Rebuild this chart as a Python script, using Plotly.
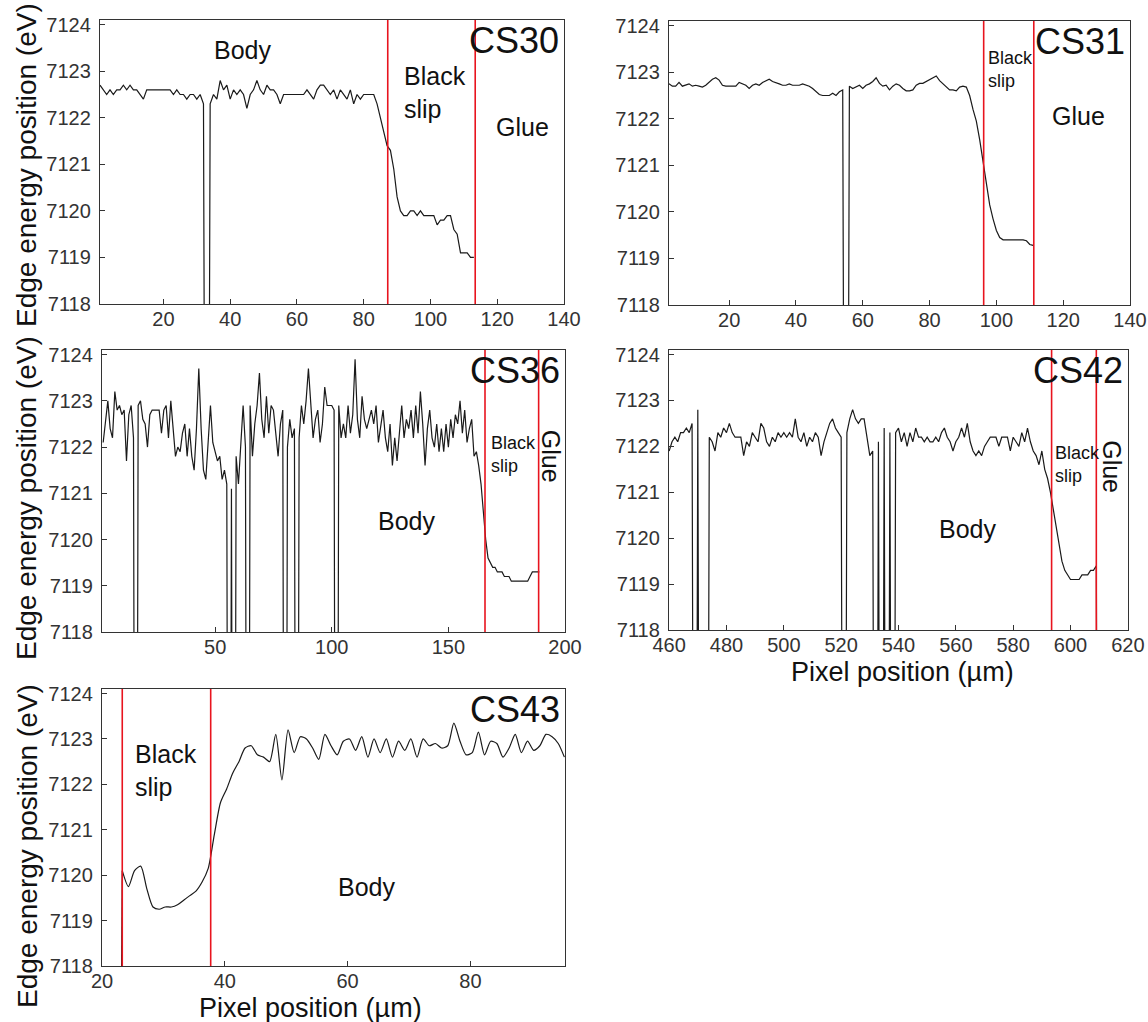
import plotly.graph_objects as go

DROP = 7100.0  # detector drop-out value (far below the visible range)

# ---------------- data ----------------
cs30_x0, cs30_dx = 1, 1
cs30_y = [
    7122.7, 7122.6, 7122.5, 7122.6, 7122.5, 7122.6, 7122.6, 7122.7, 7122.6, 7122.7,
    7122.6, 7122.6, 7122.5, 7122.4, 7122.6, 7122.6, 7122.6, 7122.6, 7122.6, 7122.6,
    7122.6, 7122.6, 7122.5, 7122.6, 7122.5, 7122.5, 7122.4, 7122.5, 7122.5, 7122.4,
    7122.5, 7122.3, DROP, 7122.3, 7122.5, 7122.4, 7122.8, 7122.6, 7122.7, 7122.4,
    7122.6, 7122.5, 7122.6, 7122.5, 7122.2, 7122.5, 7122.6, 7122.8, 7122.6, 7122.5,
    7122.7, 7122.6, 7122.6, 7122.5, 7122.3, 7122.5, 7122.5, 7122.5, 7122.5, 7122.5,
    7122.5, 7122.5, 7122.6, 7122.5, 7122.4, 7122.6, 7122.7, 7122.7, 7122.6, 7122.5,
    7122.6, 7122.4, 7122.6, 7122.5, 7122.4, 7122.6, 7122.3, 7122.5, 7122.4, 7122.5,
    7122.5, 7122.5, 7122.5, 7122.3, 7122.0, 7121.7, 7121.4, 7121.3, 7120.9, 7120.3,
    7120.0, 7119.9, 7119.9, 7120.0, 7120.0, 7119.9, 7120.0, 7119.9, 7119.9, 7119.9,
    7119.9, 7119.7, 7119.8, 7119.8, 7119.9, 7119.9, 7119.6, 7119.5, 7119.1, 7119.1,
    7119.1, 7119.0, 7119.0,
]

cs31_x0, cs31_dx = 2, 1
cs31_y = [
    7122.75, 7122.70, 7122.70, 7122.78, 7122.70, 7122.72, 7122.75, 7122.70, 7122.72, 7122.70,
    7122.68, 7122.72, 7122.78, 7122.85, 7122.88, 7122.83, 7122.72, 7122.70, 7122.70, 7122.70,
    7122.70, 7122.78, 7122.75, 7122.72, 7122.65, 7122.72, 7122.75, 7122.72, 7122.78, 7122.82,
    7122.85, 7122.80, 7122.78, 7122.75, 7122.72, 7122.72, 7122.75, 7122.72, 7122.72, 7122.72,
    7122.75, 7122.72, 7122.70, 7122.65, 7122.58, 7122.52, 7122.50, 7122.50, 7122.50, 7122.55,
    7122.50, 7122.58, 7122.62, DROP, 7122.70, 7122.65, 7122.68, 7122.72, 7122.65, 7122.72,
    7122.75, 7122.80, 7122.88, 7122.76, 7122.70, 7122.72, 7122.62, 7122.70, 7122.75, 7122.72,
    7122.65, 7122.60, 7122.60, 7122.62, 7122.72, 7122.76, 7122.76, 7122.80, 7122.85, 7122.88,
    7122.92, 7122.82, 7122.76, 7122.70, 7122.62, 7122.62, 7122.60, 7122.68, 7122.70, 7122.68,
    7122.50, 7122.20, 7121.95, 7121.55, 7121.10, 7120.60, 7120.15, 7119.85, 7119.60, 7119.45,
    7119.40, 7119.40, 7119.40, 7119.40, 7119.40, 7119.40, 7119.40, 7119.38, 7119.30, 7119.28,
]

cs36_x0, cs36_dx = 2, 1
cs36_y = [
    7122.1, 7122.6, 7123.0, 7122.4, 7122.2, 7123.2, 7122.8, 7122.9, 7122.7, 7122.8,
    7121.7, 7122.7, 7122.9, 7122.2, DROP, 7122.9, 7123.0, 7122.6, 7122.5, 7122.0,
    7122.7, 7122.8, 7122.8, 7122.8, 7122.8, 7122.3, 7122.8, 7122.9, 7122.2, 7123.0,
    7122.3, 7121.8, 7122.0, 7121.9, 7122.3, 7122.5, 7121.8, 7122.4, 7121.8, 7121.5,
    7122.4, 7123.7, 7122.4, 7121.5, 7121.3, 7122.0, 7122.9, 7122.1, 7121.9, 7121.7,
    7121.8, 7121.3, 7121.5, 7121.2, DROP, 7121.1, DROP, 7121.8, 7121.2, 7122.0,
    7122.9, 7122.0, DROP, 7122.9, 7121.8, 7122.5, 7122.9, 7123.6, 7122.6, 7122.2,
    7123.1, 7122.3, 7122.9, 7122.8, 7122.3, 7121.8, 7122.5, 7122.8, DROP, 7122.0,
    7122.6, 7122.2, 7122.4, DROP, 7122.2, 7122.9, 7122.5, 7123.0, 7123.7, 7122.9,
    7122.2, 7122.6, 7122.8, 7122.1, 7122.5, 7123.3, 7122.9, 7122.9, 7122.9, 7122.8,
    DROP, 7122.9, 7122.2, 7122.5, 7122.2, 7122.9, 7122.3, 7122.7, 7123.9, 7122.6,
    7122.2, 7123.1, 7122.6, 7122.4, 7122.6, 7122.8, 7122.5, 7122.9, 7122.1, 7122.5,
    7122.8, 7122.2, 7121.9, 7122.5, 7121.6, 7122.2, 7121.7, 7122.3, 7122.9, 7122.2,
    7122.6, 7122.4, 7122.8, 7122.2, 7122.9, 7122.3, 7123.2, 7122.5, 7121.6, 7122.4,
    7122.8, 7122.2, 7122.0, 7122.5, 7121.9, 7122.4, 7121.9, 7122.5, 7122.0, 7122.6,
    7122.2, 7122.7, 7122.5, 7123.0, 7122.3, 7122.8, 7122.1, 7122.4, 7122.6, 7121.8,
    7121.9, 7121.6, 7121.2, 7120.6, 7120.0, 7119.6, 7119.5, 7119.4, 7119.4, 7119.3,
    7119.3, 7119.3, 7119.2, 7119.2, 7119.2, 7119.1, 7119.1, 7119.1, 7119.1, 7119.1,
    7119.1, 7119.1, 7119.1, 7119.2, 7119.3, 7119.3, 7119.3, 7119.3,
]

cs42_x0, cs42_dx = 460, 1
cs42_y = [
    7121.9, 7122.1, 7122.2, 7122.1, 7122.3, 7122.3, 7122.4, 7122.3, 7122.5, DROP,
    7122.8, DROP, DROP, DROP, 7122.2, 7122.1, 7121.9, 7122.3, 7122.2, 7122.4,
    7122.3, 7122.5, 7122.3, 7122.2, 7122.2, 7122.2, 7121.8, 7122.1, 7122.0, 7122.3,
    7122.2, 7122.1, 7122.5, 7122.4, 7122.1, 7122.0, 7122.2, 7122.1, 7122.3, 7122.2,
    7122.3, 7122.2, 7122.3, 7122.2, 7122.6, 7122.2, 7122.1, 7122.3, 7122.0, 7122.2,
    7122.1, 7122.3, 7122.2, 7121.8, 7122.1, 7122.3, 7122.5, 7122.6, 7122.4, 7122.3,
    7122.2, DROP, 7122.3, 7122.6, 7122.8, 7122.6, 7122.5, 7122.6, 7122.6, 7122.2,
    7121.8, 7121.9, DROP, 7122.1, DROP, 7122.4, DROP, 7122.3, DROP, 7122.3,
    7122.4, 7122.1, 7122.3, 7122.0, 7122.3, 7122.1, 7122.4, 7122.2, 7122.2, 7122.1,
    7122.2, 7122.1, 7122.1, 7122.2, 7122.1, 7122.3, 7122.4, 7122.2, 7122.1, 7121.9,
    7122.1, 7122.2, 7122.4, 7122.2, 7122.5, 7122.1, 7121.9, 7121.8, 7121.9, 7121.8,
    7122.0, 7122.1, 7122.2, 7122.2, 7122.2, 7122.0, 7122.2, 7122.2, 7122.2, 7121.9,
    7122.2, 7122.1, 7122.0, 7122.3, 7122.1, 7122.4, 7122.1, 7121.9, 7121.8, 7121.6,
    7121.9, 7121.5, 7121.3, 7121.0, 7120.6, 7120.2, 7119.8, 7119.5, 7119.3, 7119.2,
    7119.1, 7119.1, 7119.1, 7119.1, 7119.2, 7119.2, 7119.2, 7119.3, 7119.3, 7119.4,
    DROP,
]

cs43_x0, cs43_dx = 22.3, 1
cs43_y = [
    DROP,
    7120.1, 7119.75, 7120.1, 7120.2, 7119.7, 7119.3, 7119.25, 7119.3, 7119.3, 7119.35,
    7119.45, 7119.55, 7119.65, 7119.85, 7120.15, 7120.9, 7121.6, 7121.9, 7122.25, 7122.5,
    7122.8, 7122.85, 7122.65, 7122.6, 7122.5, 7123.1, 7122.1, 7123.2, 7122.7, 7123.05,
    7123.0, 7122.8, 7122.55, 7123.1, 7122.85, 7122.65, 7122.95, 7123.0, 7122.75, 7123.05,
    7122.6, 7123.0, 7122.7, 7123.0, 7122.6, 7122.95, 7122.75, 7123.0, 7122.6, 7123.0,
    7122.85, 7122.9, 7122.8, 7122.85, 7123.35, 7122.95, 7122.65, 7122.7, 7123.15, 7122.65,
    7122.95, 7122.9, 7122.6, 7122.8, 7123.1, 7122.7, 7122.95, 7122.75, 7122.85, 7123.1,
    7123.05, 7122.9, 7122.6,
]

# region boundaries (red lines)
cs30_bounds = [87.2, 113.4]
cs31_bounds = [96.2, 111.2]
cs36_bounds = [165.7, 188.7]
cs42_bounds = [593.4, 609.0]
cs43_bounds = [23.3, 37.7]

y_ticks = [7118, 7119, 7120, 7121, 7122, 7123, 7124]
cs30_xticks = [20, 40, 60, 80, 100, 120, 140]
cs31_xticks = [20, 40, 60, 80, 100, 120, 140]
cs36_xticks = [50, 100, 150, 200]
cs42_xticks = [460, 480, 500, 520, 540, 560, 580, 600, 620]
cs43_xticks = [20, 40, 60, 80]

y_title = "Edge energy position (eV)"
x_title = "Pixel position (µm)"

# ---------------- layout helpers ----------------
W, H = 1148, 1022
FONT = "Liberation Sans, Arial, Helvetica, sans-serif"


def dom_x(a, b):
    return [a / W, b / W]


def dom_y(top, bottom):
    return [1 - bottom / H, 1 - top / H]


panels = [
    dict(name="CS30", x0=cs30_x0, dx=cs30_dx, y=cs30_y, xr=[1, 140], xt=cs30_xticks,
         bounds=cs30_bounds, px=(100, 564), py=(20, 304), spline=False),
    dict(name="CS31", x0=cs31_x0, dx=cs31_dx, y=cs31_y, xr=[2, 140], xt=cs31_xticks,
         bounds=cs31_bounds, px=(669, 1130), py=(21, 305), spline=False),
    dict(name="CS36", x0=cs36_x0, dx=cs36_dx, y=cs36_y, xr=[1.5, 200], xt=cs36_xticks,
         bounds=cs36_bounds, px=(102, 565), py=(350, 632), spline=False),
    dict(name="CS42", x0=cs42_x0, dx=cs42_dx, y=cs42_y, xr=[459.95, 620.05], xt=cs42_xticks,
         bounds=cs42_bounds, px=(669, 1128), py=(350, 630), spline=False),
    dict(name="CS43", x0=cs43_x0, dx=cs43_dx, y=cs43_y, xr=[20, 95.4], xt=cs43_xticks,
         bounds=cs43_bounds, px=(102, 565), py=(689, 966), spline=True),
]

fig = go.Figure()
layout = dict(
    width=W, height=H, autosize=False,
    margin=dict(l=0, r=0, t=0, b=0, pad=0),
    paper_bgcolor="white", plot_bgcolor="white",
    showlegend=False,
    font=dict(family=FONT, color="#111"),
)
shapes = []
annotations = []

axis_common = dict(
    showgrid=False, zeroline=False, showline=True, linecolor="#333", linewidth=1.3,
    mirror=True, ticks="inside", ticklen=5, tickwidth=1.2, tickcolor="#333",
    tickfont=dict(family=FONT, size=20, color="#333"), automargin=False,
)

for i, p in enumerate(panels, start=1):
    xa = "x" if i == 1 else f"x{i}"
    ya = "y" if i == 1 else f"y{i}"
    xs = [p["x0"] + k * p["dx"] for k in range(len(p["y"]))]
    line = dict(color="#1a1a1a", width=1.2)
    if p["spline"]:
        # the leading drop-out segment is drawn straight, the rest smoothed
        fig.add_trace(go.Scatter(x=xs[:2], y=p["y"][:2], mode="lines", xaxis=xa, yaxis=ya,
                                 line=line, hoverinfo="skip"))
        fig.add_trace(go.Scatter(x=xs[1:], y=p["y"][1:], mode="lines", xaxis=xa, yaxis=ya,
                                 line=dict(line, shape="spline", smoothing=0.7),
                                 hoverinfo="skip"))
    else:
        fig.add_trace(go.Scatter(x=xs, y=p["y"], mode="lines", xaxis=xa, yaxis=ya,
                                 line=line, hoverinfo="skip"))
    layout[f"xaxis{'' if i == 1 else i}"] = dict(
        axis_common, domain=dom_x(*p["px"]), range=p["xr"], anchor=ya,
        tickmode="array", tickvals=p["xt"], ticktext=[str(t) for t in p["xt"]],
        ticklabelstandoff=-3,
    )
    layout[f"yaxis{'' if i == 1 else i}"] = dict(
        axis_common, domain=dom_y(*p["py"]), range=[7118, 7124.1], anchor=xa,
        tickmode="array", tickvals=y_ticks, ticktext=[str(t) for t in y_ticks],
        ticklabelstandoff=4,
    )
    for b in p["bounds"]:
        shapes.append(dict(type="line", xref=xa, yref=f"{ya} domain", x0=b, x1=b, y0=0, y1=1,
                           line=dict(color="#e8141e", width=1.6), layer="above"))
    # sample name
    annotations.append(dict(xref=xa, yref=ya, x=p["xr"][1] - (p["xr"][1] - p["xr"][0]) * 0.006,
                            y=7123.65, text=p["name"], showarrow=False, xanchor="right",
                            yanchor="middle", font=dict(family=FONT, size=36, color="#111")))

# region labels: (axis index, text, x, y, size, xanchor, angle)
region_labels = [
    (1, "Body", 43.6, 7123.45, 25, "center", 0),
    (1, "Black<br>slip", 91.4, 7122.55, 25, "left", 0),
    (1, "Glue", 127.7, 7121.8, 25, "center", 0),
    (2, "Black<br>slip", 96.8, 7123.05, 18, "left", 0),
    (2, "Glue", 124.6, 7122.07, 25, "center", 0),
    (3, "Body", 132, 7120.4, 25, "center", 0),
    (3, "Black<br>slip", 167.3, 7121.83, 18, "left", 0),
    (3, "Glue", 193.8, 7121.8, 25, "center", 90),
    (4, "Body", 564, 7120.2, 25, "center", 0),
    (4, "Black<br>slip", 593.8, 7121.6, 18, "left", 0),
    (4, "Glue", 614.6, 7121.56, 25, "center", 90),
    (5, "Black<br>slip", 25.0, 7122.3, 25, "left", 0),
    (5, "Body", 63, 7119.75, 25, "center", 0),
]
for idx, txt, x, y, size, anc, ang in region_labels:
    xa = "x" if idx == 1 else f"x{idx}"
    ya = "y" if idx == 1 else f"y{idx}"
    annotations.append(dict(xref=xa, yref=ya, x=x, y=y, text=txt, showarrow=False,
                            xanchor=anc, yanchor="middle", align="left", textangle=ang,
                            font=dict(family=FONT, size=size, color="#111")))

# axis titles
for yc in (165, 498, 846):
    annotations.append(dict(xref="paper", yref="paper", x=27 / W, y=1 - yc / H, text=y_title,
                            showarrow=False, textangle=-90, xanchor="center", yanchor="middle",
                            font=dict(family=FONT, size=28, color="#111")))
for xc, yc in ((902, 672), (310, 1008)):
    annotations.append(dict(xref="paper", yref="paper", x=xc / W, y=1 - yc / H, text=x_title,
                            showarrow=False, xanchor="center", yanchor="middle",
                            font=dict(family=FONT, size=27, color="#111")))

layout["shapes"] = shapes
layout["annotations"] = annotations
fig.update_layout(**layout)
# remove the browser's default page margin so the figure sits at the window origin
fig.write_html("out.html",
               config={"displayModeBar": False},
               post_script="document.body.style.margin='0px';document.body.style.overflow='hidden';")
